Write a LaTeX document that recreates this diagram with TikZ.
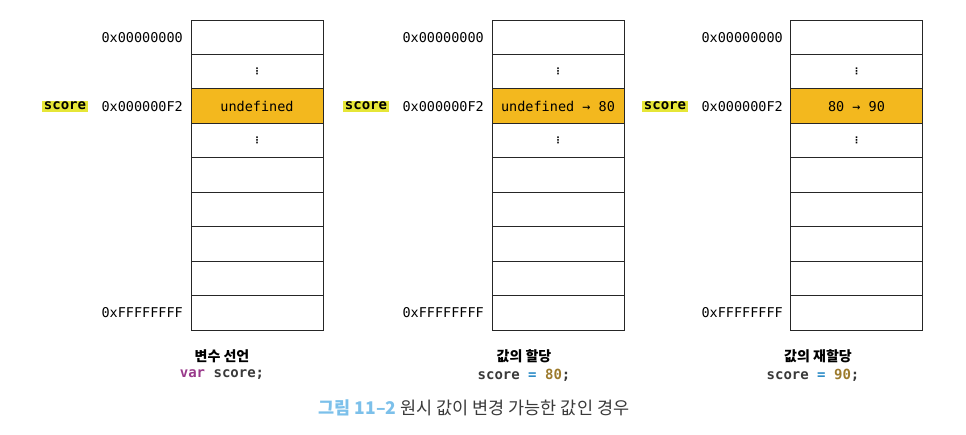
\documentclass[tikz,border=0pt]{standalone}
\usepackage{fontspec}
\setmonofont{DejaVu Sans Mono}
\newfontfamily\krfont{Noto Sans CJK KR}
\newfontfamily\symfont{DejaVu Sans}
\definecolor{cellorange}{HTML}{F3B81E}
\definecolor{markyellow}{HTML}{E6E637}
\definecolor{kwpurple}{HTML}{993A8B}
\definecolor{opblue}{HTML}{2B8BC6}
\definecolor{numbrown}{HTML}{9C7A2C}
\definecolor{capblue}{HTML}{7CC0EA}
\definecolor{textgray}{HTML}{3A3A3A}
\tikzset{
    cell/.style={draw=black!85, line width=0.8pt, minimum width=132pt,
        minimum height=34.44pt, inner sep=0pt,
        font=\ttfamily\fontsize{13.5}{15}\selectfont}
}
\tikzset{
    addr/.style={anchor=east, inner sep=0pt,
        font=\ttfamily\fontsize{13.5}{15}\selectfont}
}
\tikzset{
    varname/.style={fill=markyellow, inner sep=1.5pt,
        font=\ttfamily\bfseries\fontsize{14}{15}\selectfont}
}
\tikzset{
    steplabel/.style={inner sep=0pt, font=\krfont\bfseries\fontsize{14}{15}\selectfont}
}
\tikzset{
    codeline/.style={inner sep=0pt, text=textgray,
        font=\ttfamily\bfseries\fontsize{14}{15}\selectfont}
}
\newcommand{\vdot}{{\symfont\bfseries\fontsize{9}{9}\selectfont ⋮}}

\begin{document}
\begin{tikzpicture}[x=1pt, y=-1pt]
	\useasboundingbox (0,0) rectangle (966,434);

	% declaration
	\foreach \i in {1,5,6,7,8,9}
		\node (a\i) [cell] at (257,{20+34.44*(\i-0.5)}) {};
	\node (a2) [cell] at (257,71.66) {\vdot};
	\node (a3) [cell, fill=cellorange] at (257,106.1) {undefined};
	\node (a4) [cell] at (257,140.54) {\vdot};
	\node (atop) [addr] at (183,37.22) {0x00000000};
	\node (amid) [addr] at (183,106.1) {0x000000F2};
	\node (abot) [addr] at (183,312.78) {0xFFFFFFFF};
	\node (avar) [varname] at (65,106.1) {score};
	\node (astep) [steplabel] at (222,356) {변수 선언};
	\node (acode) [codeline] at (222,375)
		{\textcolor{kwpurple}{var} score;};

	% assignment
	\foreach \i in {1,5,6,7,8,9}
		\node (b\i) [cell] at (558,{20+34.44*(\i-0.5)}) {};
	\node (b2) [cell] at (558,71.66) {\vdot};
	\node (b3) [cell, fill=cellorange] at (558,106.1) {undefined → 80};
	\node (b4) [cell] at (558,140.54) {\vdot};
	\node (btop) [addr] at (484,37.22) {0x00000000};
	\node (bmid) [addr] at (484,106.1) {0x000000F2};
	\node (bbot) [addr] at (484,312.78) {0xFFFFFFFF};
	\node (bvar) [varname] at (366,106.1) {score};
	\node (bstep) [steplabel] at (524,356) {값의 할당};
	\node (bcode) [codeline] at (524,375)
		{score \textcolor{opblue}{=} \textcolor{numbrown}{80};};

	% reassignment
	\foreach \i in {1,5,6,7,8,9}
		\node (c\i) [cell] at (856.5,{20+34.44*(\i-0.5)}) {};
	\node (c2) [cell] at (856.5,71.66) {\vdot};
	\node (c3) [cell, fill=cellorange] at (856.5,106.1) {80 → 90};
	\node (c4) [cell] at (856.5,140.54) {\vdot};
	\node (ctop) [addr] at (783,37.22) {0x00000000};
	\node (cmid) [addr] at (783,106.1) {0x000000F2};
	\node (cbot) [addr] at (783,312.78) {0xFFFFFFFF};
	\node (cvar) [varname] at (665,106.1) {score};
	\node (cstep) [steplabel] at (818,356) {값의 재할당};
	\node (ccode) [codeline] at (813,375)
		{score \textcolor{opblue}{=} \textcolor{numbrown}{90};};

	\node (caption) [inner sep=0pt, text=textgray,
		font=\krfont\fontsize{17.5}{19}\selectfont] at (474,408)
		{\textcolor{capblue}{\bfseries 그림 11–2} 원시 값이 변경 가능한 값인 경우};
\end{tikzpicture}
\end{document}
